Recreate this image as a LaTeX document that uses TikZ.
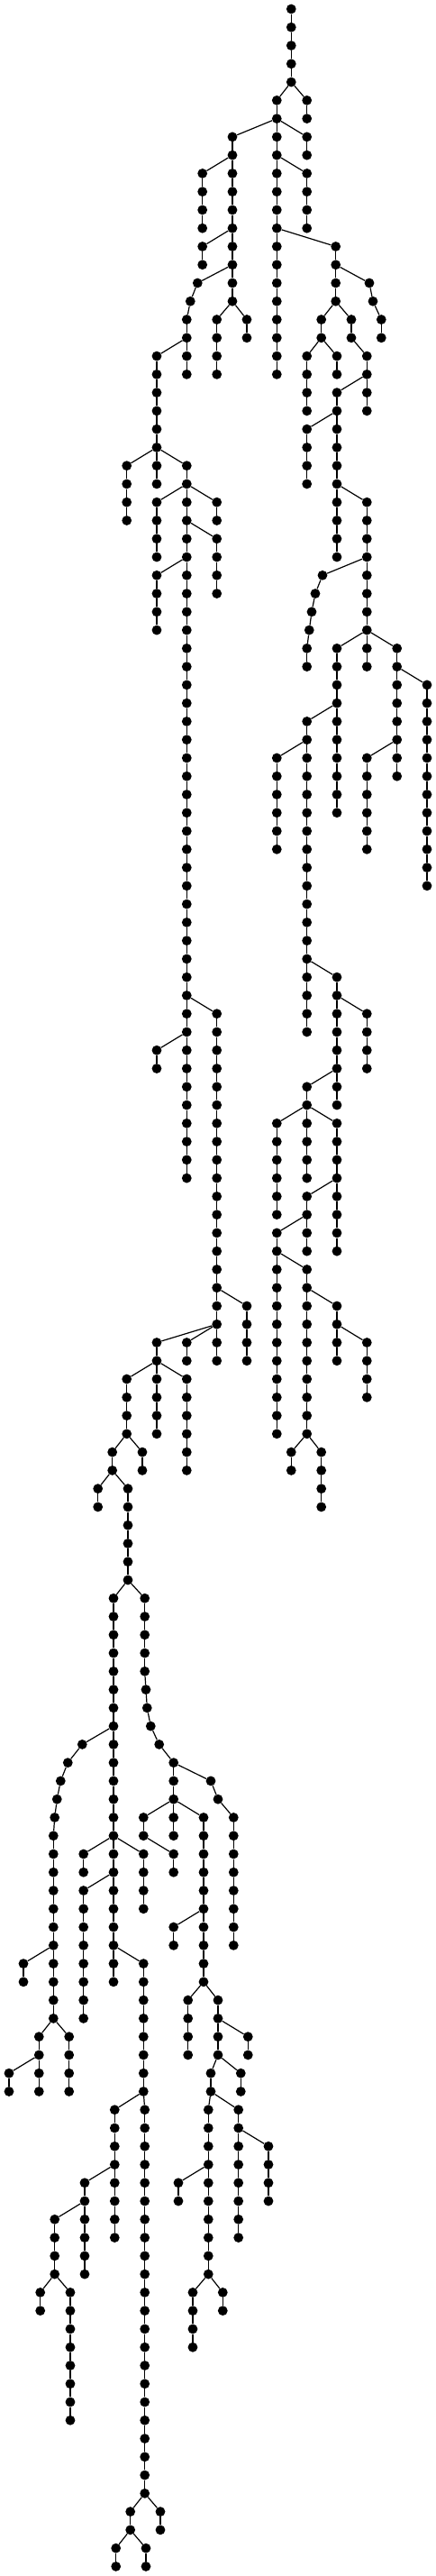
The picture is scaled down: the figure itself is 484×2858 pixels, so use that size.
\documentclass[tikz,border=0pt]{standalone}
\tikzset{
  dot/.style={circle,fill=black,draw=none,inner sep=0pt,minimum size=10.8pt},
  edge/.style={draw=black,line width=1.2pt}
}
\newcommand{\RowY}[1]{10+20.267*#1}
% \Ch{label}{parent node}{x}{first row}{last row}
\newcommand{\Ch}[5]{%
  \foreach \rr in {#4,...,#5}{%
    \node[dot] (#1-\rr) at (#3pt,{-(\RowY{\rr})*1pt}) {};
    \ifnum\rr=#4\relax
      \draw[edge] (#2) -- (#1-\rr);
    \else
      \pgfmathtruncatemacro{\pp}{\rr-1}%
      \draw[edge] (#1-\pp) -- (#1-\rr);
    \fi
  }%
}
\begin{document}
\begin{tikzpicture}
\useasboundingbox (0pt,0pt) rectangle (484pt,-2858pt);
\fill[white] (0pt,0pt) rectangle (484pt,-2858pt);
\node[dot] (a-0) at (323.3pt,-10pt) {};
\Ch{a}{a-0}{323.3}{1}{4}
\Ch{b}{a-4}{307.3}{5}{20}
\Ch{c}{a-4}{340.7}{5}{6}
\Ch{d}{b-6}{340.7}{7}{8}
\Ch{e}{b-6}{258}{7}{16}
\Ch{f}{b-8}{340.7}{9}{12}
\Ch{h}{e-8}{224.7}{9}{12}
\Ch{i}{e-12}{224.7}{13}{14}
\Ch{ja}{e-14}{219.3}{15}{15}
\Ch{jb}{ja-15}{211.3}{16}{16}
\Ch{jc}{jb-16}{207.3}{17}{20}
\Ch{k}{jc-18}{174}{19}{26}
\Ch{l}{e-16}{240.7}{17}{20}
\Ch{m}{e-16}{274}{17}{18}
\Ch{n}{k-24}{140.7}{25}{28}
\Ch{o}{k-24}{207.3}{25}{64}
\Ch{p}{o-26}{174}{27}{30}
\Ch{q}{o-26}{240.7}{27}{28}
\Ch{r}{o-28}{240.7}{29}{32}
\Ch{s}{o-30}{174}{31}{34}
\Ch{t}{o-54}{240.7}{55}{74}
\Ch{ta}{o-56}{174}{57}{58}
\Ch{u}{t-70}{274}{71}{74}
\Ch{v}{t-72}{207.3}{73}{74}
\Ch{w}{t-72}{174}{73}{78}
\Ch{x}{w-74}{140.7}{75}{78}
\Ch{y}{w-74}{207.3}{75}{80}
\Ch{xa}{x-78}{124.7}{79}{80}
\Ch{xb}{x-78}{158}{79}{80}
\Ch{xc}{xa-80}{108.7}{81}{82}
\Ch{z}{xa-80}{142}{81}{86}
\Ch{za}{z-86}{126}{87}{108}
\Ch{zb}{z-86}{160.7}{87}{91}
% left spine
\Ch{la}{za-94}{91.3}{95}{95}
\Ch{lb}{la-95}{75.3}{96}{96}
\Ch{lc}{lb-96}{67.3}{97}{97}
\Ch{ld}{lc-97}{63.3}{98}{98}
\Ch{le}{ld-98}{60.7}{99}{99}
\Ch{lf}{le-99}{59.3}{100}{110}
\Ch{lg}{lf-106}{26}{107}{108}
\Ch{lh}{lf-110}{43.3}{111}{114}
\Ch{li}{lf-110}{76.7}{111}{114}
\Ch{lj}{lh-112}{10}{113}{114}
% middle
\Ch{ma}{za-100}{92.7}{101}{102}
\Ch{mb}{za-100}{159.3}{101}{104}
\Ch{mc}{za-102}{92.7}{103}{110}
\Ch{md}{za-106}{159.3}{107}{114}
\Ch{me}{md-114}{127.3}{115}{122}
\Ch{mf}{md-114}{160.7}{115}{136}
\Ch{mg}{me-118}{94}{119}{124}
\Ch{mh}{mg-120}{60.7}{121}{124}
\Ch{mi}{mh-124}{44.7}{125}{126}
\Ch{mj}{mh-124}{78}{125}{132}
\Ch{mk}{mf-136}{144.7}{137}{138}
\Ch{ml}{mf-136}{178}{137}{138}
\Ch{mm}{mk-138}{128.7}{139}{140}
\Ch{mn}{mk-138}{162}{139}{140}
% right lower
\Ch{na}{zb-91}{162}{92}{92}
\Ch{nb}{na-92}{163.3}{93}{93}
\Ch{nc}{nb-93}{167.3}{94}{94}
\Ch{nd}{nc-94}{176.7}{95}{95}
\Ch{ne}{nd-95}{192.7}{96}{96}
\Ch{nf}{ne-96}{192.7}{97}{98}
\Ch{ng}{ne-96}{234}{97}{97}
\Ch{nh}{ng-97}{242}{98}{98}
\Ch{ni}{nh-98}{259.3}{99}{106}
\Ch{oa}{nf-98}{159.3}{99}{100}
\Ch{ob}{nf-98}{192.7}{99}{100}
\Ch{oc}{nf-98}{226}{99}{108}
\Ch{od}{oa-100}{192.7}{101}{102}
\Ch{oe}{oc-104}{192.7}{105}{106}
\Ch{of}{oc-108}{208.7}{109}{112}
\Ch{og}{oc-108}{242}{109}{112}
\Ch{oh}{og-110}{275.3}{111}{112}
\Ch{oi}{og-112}{234}{113}{114}
\Ch{oj}{og-112}{267.3}{113}{114}
\Ch{ok}{oi-114}{231.3}{115}{124}
\Ch{ol}{oi-114}{264.7}{115}{122}
\Ch{om}{ol-116}{298}{117}{120}
\Ch{on}{ok-118}{198}{119}{120}
\Ch{oo}{ok-124}{214}{125}{128}
\Ch{op}{ok-124}{247.3}{125}{126}
% upper right
\Ch{ga}{b-12}{372.7}{13}{16}
\Ch{gb}{ga-14}{410}{15}{15}
\Ch{gc}{gb-15}{414}{16}{16}
\Ch{gd}{gc-16}{423.3}{17}{18}
\Ch{ge}{ga-16}{356.7}{17}{18}
\Ch{gf}{ga-16}{390}{17}{18}
\Ch{gg}{ge-18}{340.7}{19}{22}
\Ch{gh}{ge-18}{374}{19}{20}
\Ch{gi}{gf-18}{407.3}{19}{22}
\Ch{gj}{gi-20}{374}{21}{30}
\Ch{gk}{gj-22}{340.7}{23}{26}
\Ch{gl}{gj-26}{407.3}{27}{34}
\Ch{gm}{gl-30}{358}{31}{31}
\Ch{gn}{gm-31}{350}{32}{32}
\Ch{go}{gn-32}{346}{33}{33}
\Ch{gp}{go-33}{343.3}{34}{34}
\Ch{gq}{gp-34}{340.7}{35}{36}
\Ch{gr}{gl-34}{374}{35}{44}
\Ch{gs}{gl-34}{407.3}{35}{36}
\Ch{gt}{gl-34}{440.7}{35}{42}
\Ch{gu}{gt-36}{474}{37}{48}
\Ch{gv}{gt-40}{407.3}{41}{46}
\Ch{gw}{gr-38}{340.7}{39}{56}
\Ch{gx}{gw-40}{307.3}{41}{46}
\Ch{gy}{gw-52}{374}{53}{60}
\Ch{gz}{gy-54}{407.3}{55}{58}
\Ch{ha}{gy-58}{340.7}{59}{60}
\Ch{hb}{ha-60}{307.3}{61}{66}
\Ch{hc}{ha-60}{340.7}{61}{64}
\Ch{hd}{ha-60}{374}{61}{68}
\Ch{he}{hd-64}{340.7}{65}{68}
\Ch{hf}{he-66}{307.3}{67}{78}
\Ch{hg}{hf-68}{340.7}{69}{78}
\Ch{hh}{hg-70}{374}{71}{74}
\Ch{hi}{hh-72}{407.3}{73}{76}
\Ch{hj}{hg-78}{323.3}{79}{80}
\Ch{hk}{hg-78}{356.7}{79}{82}
\end{tikzpicture}
\end{document}
